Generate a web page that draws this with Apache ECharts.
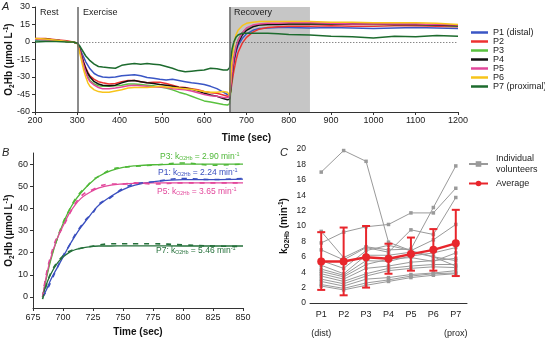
<!DOCTYPE html>
<html>
<head>
<meta charset="utf-8">
<script src="https://cdn.jsdelivr.net/npm/echarts@6/dist/echarts.min.js"></script>
<style>
  html, body { margin: 0; padding: 0; background: #fff; }
  #chart { width: 545px; height: 338px; }
</style>
</head>
<body>
<div id="chart"></div>
<script>
// A: O2Hb time course at 7 probe positions (rest / exercise / recovery)
const timeA = [200, 225, 250, 275, 290, 300, 305, 310, 315, 320, 325, 330, 340, 350, 360, 375, 390, 405, 420, 435, 450, 465, 480, 495, 510, 525, 540, 555, 570, 585, 600, 615, 630, 645, 655, 660, 663, 666, 670, 675, 680, 690, 700, 715, 730, 750, 775, 800, 850, 900, 950, 1000, 1050, 1100, 1150, 1200]
const p1A = [1.5, 2, 1.5, 0.5, 0, -1, -4, -9, -13, -17, -20, -23, -27, -29, -30, -30.5, -30, -29, -28.5, -28, -29, -30.5, -31, -32, -32.5, -32, -33, -34, -35, -35.5, -36.5, -38, -40, -43, -45, -45, -38, -28, -18, -9, -3, 3, 7, 10, 11.5, 12, 12.5, 12.5, 12, 12.5, 12, 11.5, 12, 12.5, 12, 11.5]
const p2A = [3, 3, 2, 1, 0, -1, -5, -11, -17, -22, -26, -29, -32, -34, -35, -36, -35.5, -34, -33, -33, -34, -35, -34.5, -34.5, -35.5, -37, -38.5, -39, -40, -41, -42.5, -43.5, -44, -45.5, -46.5, -46, -42, -34, -25, -16, -9, -1, 4, 8.5, 11, 12.5, 13, 13.5, 13.5, 14, 13.5, 13.5, 14, 14, 13.5, 13]
const p3A = [2, 2, 1.5, 0.5, 0, -1, -6, -13, -20, -26, -30, -33, -36, -37.5, -38, -38, -37.5, -37, -36, -36, -36.5, -37, -37.5, -38.5, -39.5, -41, -43, -44.5, -46.5, -48.5, -50.5, -51.5, -52.5, -53.5, -54, -53, -42, -28, -14, -4, 2, 8, 11.5, 13.5, 14.5, 15, 15.5, 15.5, 15.5, 16, 15.5, 15, 15, 15, 14.5, 13.5]
const p4A = [2.5, 2.5, 1.5, 0.5, 0, -1, -5, -12, -18, -23, -27, -30, -34, -36, -37, -37.5, -37, -35, -33.5, -33, -34, -35, -35.5, -36.5, -37, -38, -39, -39.5, -40.5, -42, -44, -45.5, -46.5, -48.5, -49.5, -49, -40, -28, -16, -7, -1, 6, 10, 13, 14.5, 15, 15, 15.5, 15.5, 15.5, 15.5, 15.5, 15, 15, 14.5, 14]
const p5A = [2.5, 2, 1.5, 0.5, 0, -1, -6, -13, -20, -26, -31, -34, -37, -39, -40, -40, -39.5, -38.5, -37.5, -37, -37.5, -38, -38.5, -38.5, -39, -40, -40.5, -41, -42, -43.5, -45, -46, -46.5, -47.5, -47.5, -47, -38, -26, -14, -5, 1, 8, 12, 14.5, 15.5, 16, 16, 16.5, 16.5, 16, 15.5, 15.5, 15.5, 15.5, 15, 14.5]
const p6A = [3, 2.5, 1.5, 0.5, 0, -1, -8, -16, -24, -30, -35, -38, -41, -42.5, -43, -43, -42, -41, -39.5, -39, -39, -39, -38.5, -38, -38.5, -39, -39.5, -40, -40.5, -41.5, -42.5, -43, -43, -42.5, -43, -46, -30, -14, -2, 6, 10, 14, 16, 17, 17.5, 17.5, 17.5, 17.5, 17.5, 17, 17, 16.5, 16.5, 16.5, 16, 15]
const p7A = [0, 0.5, 0.5, 0, 0, -1, -3, -6, -9, -12, -14, -16, -19, -21, -21.5, -22, -22.5, -20, -19, -18.5, -19, -18.5, -19, -19.5, -21, -22.5, -24.5, -25.5, -25, -24.5, -24, -22.5, -23, -24, -24, -22, -14, -6, 0, 4, 6, 7.5, 7.5, 7.5, 7.5, 7.5, 7, 6.5, 6, 5, 4.5, 3.5, 5, 4.5, 5.5, 5]
const namesA = ['P1 (distal)', 'P2', 'P3', 'P4', 'P5', 'P6', 'P7 (proximal)']
const colorsA = ['#3a56c5', '#ee3230', '#5ac23f', '#111111', '#e2479b', '#f7c41a', '#1d6b2e']

// B: recovery kinetics, measured (dashed) and mono-exponential fit (solid)
const timeB = [683, 686, 690, 695, 700, 705, 710, 715, 720, 725, 730, 740, 750, 760, 775, 800, 825, 850]
const p3Fit = [0, 8, 17, 26, 33, 39, 43.5, 47, 50, 52.5, 54.5, 57, 58.5, 59.2, 59.7, 60, 60, 60]
const p1Fit = [0, 3, 8, 13, 18, 23, 27.5, 31.5, 35, 38.5, 41.5, 45.5, 48.5, 50.5, 52, 53, 53, 53.2]
const p5Fit = [0, 9, 18, 26, 32, 37.5, 41.5, 44.5, 46.5, 48, 49.3, 50.5, 51, 51.3, 51.5, 51.5, 51.5, 51.5]
const p7Fit = [0, 5.5, 10.5, 15, 18, 20, 21.3, 22, 22.5, 22.8, 23, 23, 23.1, 23.1, 23.1, 23, 23, 23]
const p3Data = [0, 9, 18, 26, 33.5, 39, 44, 47.5, 50, 53, 54.5, 57.5, 58.5, 59, 59.5, 60.5, 59.5, 60]
const p1Data = [0, 2.5, 7, 13, 18.5, 23, 28, 32, 35.5, 38, 42, 45, 49, 51, 52, 53.5, 53, 53.5]
const p5Data = [0, 10, 19, 27, 31.5, 37, 42, 45.5, 47.5, 48.5, 50, 51, 51, 51.5, 51, 51.5, 51.5, 51.5]
const p7Data = [-1, 5, 11, 15.5, 18.5, 20.5, 21.5, 22, 22.5, 23, 23.5, 24, 24, 24, 24, 23.5, 23, 22.8]
const labelsB = [
  { name: 'P3', k: '2.90', color: '#4fb838', x: 160, y: 151 },
  { name: 'P1', k: '2.24', color: '#3a4fbf', x: 158, y: 167 },
  { name: 'P5', k: '3.65', color: '#e2479b', x: 157, y: 186 },
  { name: 'P7', k: '5.46', color: '#24703a', x: 156, y: 245 }
]

// C: k_O2Hb per position, individual volunteers + mean ± SD
const catsC = ['P1', 'P2', 'P3', 'P4', 'P5', 'P6', 'P7']
const volunteers = [
  [17.0, 19.8, 18.4, 7.9, 6.8, 6.0, 4.8],
  [7.8, 9.2, 9.9, 10.2, 11.7, 11.7, 14.9],
  [9.3, 5.9, 7.3, 6.9, 7.0, 12.4, 17.8],
  [6.9, 5.6, 7.2, 6.6, 9.5, 8.9, 13.7],
  [5.5, 4.5, 6.8, 7.5, 6.8, 8.2, 10.2],
  [4.9, 3.8, 6.2, 6.2, 6.6, 6.0, 5.5],
  [4.4, 3.6, 5.5, 5.4, 6.1, 6.5, 7.2],
  [4.1, 3.4, 5.0, 5.7, 5.9, 5.4, 6.5],
  [3.8, 3.1, 4.5, 4.8, 5.3, 5.5, 5.8],
  [3.5, 2.8, 3.8, 4.5, 4.8, 5.0, 5.0],
  [3.1, 2.5, 3.5, 4.2, 4.5, 4.7, 4.6],
  [2.8, 2.2, 3.1, 3.3, 3.7, 3.9, 4.2],
  [2.4, 1.9, 2.6, 3.0, 3.5, 3.8, 3.9],
  [2.2, 1.7, 2.3, 2.8, 3.3, 3.6, 3.8]
]
const avgC = [5.4, 5.4, 5.95, 5.75, 6.35, 6.9, 7.75]
const lowC = [1.7, 1.0, 2.0, 3.8, 4.2, 4.2, 3.5]
const highC = [9.2, 9.8, 10.0, 7.7, 8.5, 9.6, 12.1]

const FONT = '"Liberation Sans", Arial, sans-serif'
const RED = '#e8262c'
const INK = '#222'

const chart = echarts.init(document.getElementById('chart'), null, { renderer: 'canvas' })

const axisBase = {
  axisLine: { onZero: false, lineStyle: { color: '#333', width: 1 } },
  axisTick: { length: 3, lineStyle: { color: '#333' } },
  axisLabel: { color: INK, fontSize: 9, fontFamily: FONT, formatter: v => String(v) },
  splitLine: { show: false },
  nameMoveOverlap: false
}
const nameRich = {
  b: { fontSize: 10, fontWeight: 'bold', fontFamily: FONT, color: '#111' },
  s: { fontSize: 6.5, fontWeight: 'bold', fontFamily: FONT, color: '#111', padding: [6, 0, 0, 0] },
  p: { fontSize: 6.5, fontWeight: 'bold', fontFamily: FONT, color: '#111', padding: [0, 0, 6, 0] }
}
const timeName = { fontSize: 10, fontWeight: 'bold', fontFamily: FONT, color: '#111' }

const series = []

// shaded recovery window + phase markers (A)
series.push({
  type: 'line', xAxisIndex: 0, yAxisIndex: 0, data: [], silent: true, z: 1,
  markArea: { silent: true, itemStyle: { color: '#c6c6c6' }, data: [[{ xAxis: 660 }, { xAxis: 850 }]] },
  markLine: {
    silent: true, symbol: ['none', 'none'], label: { show: false },
    data: [
      { xAxis: 300, lineStyle: { color: '#666', width: 1.5, type: 'solid' } },
      { xAxis: 660, lineStyle: { color: '#666', width: 1.5, type: 'solid' } },
      [{ coord: [300, 0], lineStyle: { color: '#555', width: 1, type: [1, 2] } }, { coord: [1200, 0] }]
    ]
  }
})

const seriesA = [p1A, p2A, p3A, p4A, p5A, p6A, p7A]
seriesA.forEach((vals, i) => {
  series.push({
    name: namesA[i], type: 'line', xAxisIndex: 0, yAxisIndex: 0,
    data: timeA.map((t, j) => [t, vals[j]]),
    symbol: 'none', color: colorsA[i],
    lineStyle: { width: 1.5, color: colorsA[i] }, z: 2
  })
})

// B fits and measured traces
const fitsB = [p3Fit, p1Fit, p5Fit, p7Fit]
const dataB = [p3Data, p1Data, p5Data, p7Data]
fitsB.forEach((vals, i) => {
  const c = labelsB[i].color
  series.push({
    name: labelsB[i].name + ' fit', type: 'line', xAxisIndex: 1, yAxisIndex: 1,
    data: timeB.map((t, j) => [t, vals[j]]), smooth: 0.4,
    symbol: 'none', lineStyle: { width: 1.3, color: c }, z: 2
  })
  series.push({
    name: labelsB[i].name + ' data', type: 'line', xAxisIndex: 1, yAxisIndex: 1,
    data: timeB.map((t, j) => [t, dataB[i][j]]), smooth: 0.4,
    symbol: 'none', lineStyle: { width: 1.6, color: c, type: [5, 6] }, z: 3
  })
})

// C individual volunteers
volunteers.forEach(v => {
  series.push({
    name: 'Individual\nvolunteers', type: 'line', xAxisIndex: 2, yAxisIndex: 2,
    data: v, symbol: 'rect', symbolSize: 3.5, color: '#9a9a9a',
    lineStyle: { width: 1, color: '#9a9a9a' }, z: 2
  })
})

// C error bars (mean ± SD)
series.push({
  type: 'custom', xAxisIndex: 2, yAxisIndex: 2, z: 4, silent: true,
  data: catsC.map((c, i) => [i, lowC[i], highC[i]]),
  encode: { x: 0, y: [1, 2] },
  renderItem: (params, api) => {
    const lo = api.coord([api.value(0), api.value(1)])
    const hi = api.coord([api.value(0), api.value(2)])
    const w = 4
    const st = { stroke: RED, lineWidth: 2 }
    return {
      type: 'group',
      children: [
        { type: 'line', shape: { x1: lo[0], y1: lo[1], x2: hi[0], y2: hi[1] }, style: st },
        { type: 'line', shape: { x1: lo[0] - w, y1: lo[1], x2: lo[0] + w, y2: lo[1] }, style: st },
        { type: 'line', shape: { x1: hi[0] - w, y1: hi[1], x2: hi[0] + w, y2: hi[1] }, style: st }
      ]
    }
  }
})
series.push({
  name: 'Average', type: 'line', xAxisIndex: 2, yAxisIndex: 2,
  data: avgC, symbol: 'circle', symbolSize: 8, color: RED,
  lineStyle: { width: 2.5, color: RED }, z: 5
})

// B annotation texts
const kRich = c => ({
  n: { fill: c, fontSize: 8.5, fontFamily: FONT },
  s: { fill: c, fontSize: 5, fontFamily: FONT, padding: [5, 0, 0, 0] },
  p: { fill: c, fontSize: 5.5, fontFamily: FONT, padding: [0, 0, 5, 0] }
})
const graphicB = labelsB.map(l => ({
  type: 'text', left: l.x, top: l.y, z: 100,
  style: {
    text: '{n|' + l.name + ': k}{s|O2Hb}{n| = ' + l.k + ' min}{p|-1}',
    rich: kRich(l.color)
  }
}))

const txt = (text, x, y, extra) => ({
  type: 'text', left: x, top: y, z: 100,
  style: Object.assign({ text, fill: INK, fontSize: 9, fontFamily: FONT }, extra || {})
})

const option = {
  animation: false,
  backgroundColor: '#fff',
  textStyle: { fontFamily: FONT },
  grid: [
    { left: 35, top: 7, width: 423, height: 105, outerBoundsMode: 'none' },
    { left: 33, top: 153, width: 210, height: 155, outerBoundsMode: 'none' },
    { left: 310, top: 149, width: 157, height: 154, outerBoundsMode: 'none' }
  ],
  xAxis: [
    Object.assign({}, axisBase, {
      type: 'value', gridIndex: 0, min: 200, max: 1200, interval: 100,
      axisLabel: Object.assign({}, axisBase.axisLabel, { margin: 4 }),
      name: 'Time (sec)', nameLocation: 'middle', nameGap: 21, nameTextStyle: timeName
    }),
    Object.assign({}, axisBase, {
      type: 'value', gridIndex: 1, min: 675, max: 850, interval: 25,
      axisLabel: Object.assign({}, axisBase.axisLabel, { margin: 5 }),
      name: 'Time (sec)', nameLocation: 'middle', nameGap: 19, nameTextStyle: timeName
    }),
    Object.assign({}, axisBase, {
      type: 'category', gridIndex: 2, data: catsC, boundaryGap: true,
      axisTick: { alignWithLabel: true, interval: 0, length: 3, lineStyle: { color: '#333' } },
      axisLabel: {
        color: INK, fontSize: 9, fontFamily: FONT, margin: 2, lineHeight: 19, interval: 0,
        formatter: (v, i) => i === 0 ? v + '\n(dist)' : i === 6 ? v + '\n(prox)' : v
      }
    })
  ],
  yAxis: [
    Object.assign({}, axisBase, {
      type: 'value', gridIndex: 0, min: -60, max: 30, interval: 15,
      axisLabel: Object.assign({}, axisBase.axisLabel, { margin: 5 }),
      name: '{b|O}{s|2}{b|Hb (µmol L}{p|-1}{b|)}', nameLocation: 'middle', nameGap: 19,
      nameTextStyle: { rich: nameRich }
    }),
    Object.assign({}, axisBase, {
      type: 'value', gridIndex: 1, min: -5, max: 65,
      axisLabel: Object.assign({}, axisBase.axisLabel, { margin: 5, customValues: [0, 10, 20, 30, 40, 50, 60] }),
      axisTick: { length: 3, lineStyle: { color: '#333' }, customValues: [0, 10, 20, 30, 40, 50, 60] },
      name: '{b|O}{s|2}{b|Hb (µmol L}{p|-1}{b|)}', nameLocation: 'middle', nameGap: 17,
      nameTextStyle: { rich: nameRich }
    }),
    Object.assign({}, axisBase, {
      type: 'value', gridIndex: 2, min: 0, max: 20, interval: 2,
      axisLabel: { color: INK, fontSize: 8.5, fontFamily: FONT, margin: 4 },
      name: '{b|k}{s|O2Hb}{b| (min}{p|-1}{b|)}', nameLocation: 'middle', nameGap: 19,
      nameTextStyle: { rich: nameRich }
    })
  ],
  legend: [
    {
      data: namesA, orient: 'vertical', left: 471, top: 28, padding: 0,
      icon: 'rect', itemWidth: 17, itemHeight: 2.5, itemGap: 0,
      textStyle: { fontSize: 9, fontFamily: FONT, color: INK, lineHeight: 9 }
    },
    {
      data: ['Individual\nvolunteers', 'Average'], orient: 'vertical', left: 468, top: 153, padding: 0,
      itemWidth: 19, itemHeight: 7, itemGap: 3,
      textStyle: { fontSize: 9, fontFamily: FONT, color: INK, lineHeight: 11, padding: [0, 0, 0, 3] }
    }
  ],
  graphic: [
    txt('A', 2, 1, { fontSize: 11, fontStyle: 'italic' }),
    txt('B', 2, 147, { fontSize: 11, fontStyle: 'italic' }),
    txt('C', 280, 147, { fontSize: 11, fontStyle: 'italic' }),
    txt('Rest', 40, 8),
    txt('Exercise', 83, 8),
    txt('Recovery', 234, 8)
  ].concat(graphicB),
  series
}

chart.setOption(option)
</script>
</body>
</html>
